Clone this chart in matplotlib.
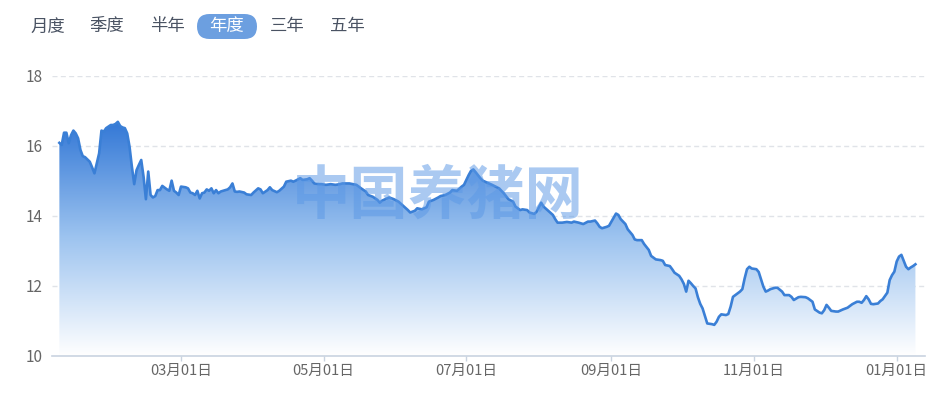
import matplotlib
matplotlib.use('Agg')
import matplotlib.pyplot as plt
import matplotlib.dates as mdates
from matplotlib.colors import LinearSegmentedColormap
from matplotlib.patches import FancyBboxPatch
from matplotlib.transforms import Affine2D
import numpy as np
import pandas as pd

plt.rcParams['font.family'] = ['Noto Sans CJK SC', 'DejaVu Sans']

# ---------------- data ----------------
dates = [
    '2025-01-08', '2025-01-09', '2025-01-10', '2025-01-11', '2025-01-12', '2025-01-13', '2025-01-14',
    '2025-01-15', '2025-01-16', '2025-01-17', '2025-01-18', '2025-01-19', '2025-01-21', '2025-01-22',
    '2025-01-23', '2025-01-25', '2025-01-26', '2025-01-27', '2025-01-28', '2025-01-30', '2025-01-31',
    '2025-02-01', '2025-02-02', '2025-02-03', '2025-02-04', '2025-02-05', '2025-02-06', '2025-02-07',
    '2025-02-08', '2025-02-09', '2025-02-10', '2025-02-11', '2025-02-12', '2025-02-13', '2025-02-14',
    '2025-02-15', '2025-02-16', '2025-02-17', '2025-02-18', '2025-02-19', '2025-02-20', '2025-02-21',
    '2025-02-23', '2025-02-24', '2025-02-25', '2025-02-26', '2025-02-27', '2025-02-28', '2025-03-01',
    '2025-03-03', '2025-03-04', '2025-03-05', '2025-03-06', '2025-03-07', '2025-03-08', '2025-03-09',
    '2025-03-10', '2025-03-11', '2025-03-12', '2025-03-13', '2025-03-14', '2025-03-15', '2025-03-16',
    '2025-03-17', '2025-03-18', '2025-03-19', '2025-03-21', '2025-03-22', '2025-03-23', '2025-03-24',
    '2025-03-25', '2025-03-26', '2025-03-28', '2025-03-29', '2025-03-31', '2025-04-01', '2025-04-03',
    '2025-04-04', '2025-04-05', '2025-04-07', '2025-04-08', '2025-04-09', '2025-04-11', '2025-04-12',
    '2025-04-14', '2025-04-15', '2025-04-17', '2025-04-18', '2025-04-19', '2025-04-21', '2025-04-22',
    '2025-04-24', '2025-04-25', '2025-04-26', '2025-04-27', '2025-04-29', '2025-04-30', '2025-05-02',
    '2025-05-04', '2025-05-06', '2025-05-08', '2025-05-09', '2025-05-12', '2025-05-15', '2025-05-17',
    '2025-05-19', '2025-05-20', '2025-05-22', '2025-05-24', '2025-05-25', '2025-05-26', '2025-05-28',
    '2025-05-29', '2025-05-31', '2025-06-02', '2025-06-04', '2025-06-06', '2025-06-07', '2025-06-09',
    '2025-06-10', '2025-06-12', '2025-06-14', '2025-06-15', '2025-06-17', '2025-06-19', '2025-06-20',
    '2025-06-22', '2025-06-24', '2025-06-25', '2025-06-27', '2025-06-29', '2025-06-30', '2025-07-01',
    '2025-07-02', '2025-07-03', '2025-07-04', '2025-07-05', '2025-07-07', '2025-07-08', '2025-07-10',
    '2025-07-12', '2025-07-15', '2025-07-17', '2025-07-19', '2025-07-21', '2025-07-22', '2025-07-24',
    '2025-07-25', '2025-07-27', '2025-07-28', '2025-07-30', '2025-07-31', '2025-08-01', '2025-08-02',
    '2025-08-03', '2025-08-05', '2025-08-07', '2025-08-08', '2025-08-09', '2025-08-11', '2025-08-13',
    '2025-08-15', '2025-08-16', '2025-08-18', '2025-08-20', '2025-08-22', '2025-08-23', '2025-08-25',
    '2025-08-26', '2025-08-27', '2025-08-28', '2025-08-30', '2025-08-31', '2025-09-02', '2025-09-03',
    '2025-09-04', '2025-09-05', '2025-09-07', '2025-09-08', '2025-09-10', '2025-09-11', '2025-09-12',
    '2025-09-14', '2025-09-15', '2025-09-17', '2025-09-18', '2025-09-20', '2025-09-22', '2025-09-23',
    '2025-09-24', '2025-09-26', '2025-09-27', '2025-09-28', '2025-09-30', '2025-10-01', '2025-10-02',
    '2025-10-03', '2025-10-04', '2025-10-05', '2025-10-06', '2025-10-07', '2025-10-08', '2025-10-09',
    '2025-10-10', '2025-10-11', '2025-10-12', '2025-10-14', '2025-10-15', '2025-10-16', '2025-10-17',
    '2025-10-18', '2025-10-20', '2025-10-21', '2025-10-22', '2025-10-23', '2025-10-25', '2025-10-26',
    '2025-10-27', '2025-10-28', '2025-10-29', '2025-10-30', '2025-10-31', '2025-11-02', '2025-11-03',
    '2025-11-04', '2025-11-05', '2025-11-06', '2025-11-07', '2025-11-08', '2025-11-10', '2025-11-11',
    '2025-11-13', '2025-11-14', '2025-11-16', '2025-11-17', '2025-11-18', '2025-11-20', '2025-11-21',
    '2025-11-23', '2025-11-24', '2025-11-26', '2025-11-27', '2025-11-29', '2025-11-30', '2025-12-01',
    '2025-12-02', '2025-12-03', '2025-12-04', '2025-12-06', '2025-12-07', '2025-12-09', '2025-12-11',
    '2025-12-12', '2025-12-13', '2025-12-15', '2025-12-16', '2025-12-17', '2025-12-18', '2025-12-19',
    '2025-12-20', '2025-12-21', '2025-12-22', '2025-12-24', '2025-12-25', '2025-12-26', '2025-12-28',
    '2025-12-29', '2025-12-30', '2025-12-31', '2026-01-01', '2026-01-02', '2026-01-03', '2026-01-04',
    '2026-01-05', '2026-01-06', '2026-01-07', '2026-01-08', '2026-01-09',
]
prices = [
    16.09, 16.03, 16.38, 16.38, 16.08, 16.31, 16.44,
    16.36, 16.22, 15.89, 15.71, 15.68, 15.55, 15.39,
    15.22, 15.79, 16.44, 16.41, 16.51, 16.60, 16.60,
    16.63, 16.69, 16.57, 16.53, 16.51, 16.36, 15.98,
    15.41, 14.91, 15.31, 15.46, 15.60, 15.12, 14.48,
    15.27, 14.60, 14.53, 14.57, 14.74, 14.74, 14.86,
    14.76, 14.72, 15.01, 14.72, 14.67, 14.60, 14.84,
    14.82, 14.79, 14.67, 14.65, 14.60, 14.72, 14.50,
    14.65, 14.67, 14.76, 14.72, 14.79, 14.65, 14.74,
    14.65, 14.70, 14.72, 14.76, 14.82, 14.93, 14.70,
    14.69, 14.70, 14.67, 14.62, 14.60, 14.67, 14.79,
    14.76, 14.65, 14.74, 14.82, 14.74, 14.68, 14.72,
    14.84, 14.98, 15.01, 14.98, 15.01, 15.08, 15.03,
    15.05, 15.08, 15.01, 14.93, 14.91, 14.91, 14.89,
    14.91, 14.89, 14.91, 14.93, 14.93, 14.89, 14.79,
    14.70, 14.60, 14.55, 14.46, 14.38, 14.44, 14.50,
    14.53, 14.48, 14.41, 14.29, 14.17, 14.10, 14.15,
    14.22, 14.19, 14.25, 14.41, 14.46, 14.53, 14.57,
    14.60, 14.67, 14.74, 14.72, 14.84, 14.89, 15.03,
    15.17, 15.29, 15.33, 15.25, 15.08, 15.01, 14.95,
    14.89, 14.79, 14.65, 14.48, 14.41, 14.27, 14.17,
    14.19, 14.17, 14.10, 14.06, 14.12, 14.25, 14.38,
    14.27, 14.15, 14.03, 13.91, 13.81, 13.81, 13.83,
    13.81, 13.84, 13.81, 13.77, 13.84, 13.84, 13.87,
    13.79, 13.69, 13.65, 13.69, 13.72, 13.95, 14.07,
    14.03, 13.91, 13.77, 13.62, 13.46, 13.33, 13.31,
    13.31, 13.20, 13.03, 12.86, 12.76, 12.74, 12.72,
    12.60, 12.57, 12.48, 12.38, 12.29, 12.19, 12.06,
    11.84, 12.15, 12.08, 12.00, 11.93, 11.68, 11.49,
    11.36, 11.14, 10.93, 10.91, 10.89, 10.98, 11.12,
    11.19, 11.17, 11.20, 11.41, 11.69, 11.79, 11.84,
    11.91, 12.22, 12.48, 12.55, 12.50, 12.48, 12.40,
    12.19, 11.98, 11.84, 11.87, 11.91, 11.95, 11.95,
    11.84, 11.74, 11.74, 11.69, 11.60, 11.68, 11.69,
    11.68, 11.65, 11.55, 11.33, 11.24, 11.22, 11.31,
    11.46, 11.38, 11.29, 11.27, 11.27, 11.33, 11.38,
    11.43, 11.48, 11.55, 11.55, 11.52, 11.60, 11.71,
    11.62, 11.49, 11.48, 11.50, 11.57, 11.62, 11.81,
    12.17, 12.31, 12.41, 12.70, 12.84, 12.89, 12.72,
    12.55, 12.48, 12.53, 12.57, 12.62,
]
x_tick_dates = ['2025-03-01', '2025-05-01', '2025-07-01', '2025-09-01', '2025-11-01', '2026-01-01']
x_tick_labels = ['03月01日', '05月01日', '07月01日', '09月01日', '11月01日', '01月01日']
y_ticks = [10, 12, 14, 16, 18]
buttons = ['月度', '季度', '半年', '年度', '三年', '五年']
selected_button = '年度'
watermark = '中国养猪网'

# ---------------- figure ----------------
W, H = 945, 400
fig = plt.figure(figsize=(W / 100, H / 100), dpi=100)
fig.patch.set_facecolor('white')
ax = fig.add_axes([52 / W, 44 / H, 873 / W, 280 / H])

xn = mdates.date2num(pd.to_datetime(dates))
y = np.array(prices)

# gradient fill under the curve
top_rgb = (0.20, 0.47, 0.84)
cmap = LinearSegmentedColormap.from_list('g', [(1, 1, 1), (0.62, 0.77, 0.94), top_rgb])
grad = np.linspace(0, 1, 256).reshape(-1, 1)
im = ax.imshow(grad, extent=[xn[0], xn[-1], 10, y.max()], origin='lower',
               aspect='auto', cmap=cmap, zorder=1, interpolation='bicubic')
poly = ax.fill_between(xn, y, 10, facecolor='none', edgecolor='none', zorder=1)
im.set_clip_path(poly.get_paths()[0], transform=ax.transData)

ax.plot(xn, y, color='#3a7fd6', lw=1.9, zorder=3, solid_joinstyle='round')

# grid
for v in y_ticks[1:]:
    ax.axhline(v, color='#e0e3e8', lw=1.0, ls=(0, (3.6, 2.4)), zorder=0.5)

x0 = pd.Timestamp('2025-03-01')
ax.set_xlim(mdates.date2num(x0 + pd.Timedelta(days=-55.15)),
            mdates.date2num(x0 + pd.Timedelta(days=318.1)))
ax.set_ylim(10, 18)

for s in ['top', 'right', 'left']:
    ax.spines[s].set_visible(False)
ax.spines['bottom'].set_color('#c9d3e0')
ax.spines['bottom'].set_linewidth(1.2)
ax.spines['bottom'].set_zorder(4)

ax.set_yticks(y_ticks)
ax.set_yticklabels([str(v) for v in y_ticks])
ax.tick_params(axis='y', length=0, pad=7, labelsize=11, labelcolor='#666666')

ax.set_xticks(mdates.date2num(pd.to_datetime(x_tick_dates)))
ax.set_xticklabels(x_tick_labels)
ax.tick_params(axis='x', length=3.5, width=1, color='#c9d3e0', pad=2,
               labelsize=10.5, labelcolor='#666666')

# watermark
fig.text(438 / W, 1 - 197 / H, watermark, fontsize=42, fontweight='bold',
         color=(0.36, 0.60, 0.90, 0.52), ha='center', va='center', zorder=10)

# top buttons
pix = Affine2D().scale(1 / W, 1 / H) + fig.transFigure
btn_x = [47.5, 106.5, 167, 227, 287.5, 347.5]
for bx, label in zip(btn_x, buttons):
    if label == selected_button:
        pill = FancyBboxPatch((bx - 30, H - 39), 60, 25,
                              boxstyle='round,pad=0,rounding_size=12.5',
                              transform=pix, facecolor='#6c9fe0', edgecolor='none')
        fig.patches.append(pill)
        fig.text(bx / W, 1 - 26.5 / H, label, fontsize=12.5, color='white',
                 ha='center', va='center')
    else:
        fig.text(bx / W, 1 - 26.5 / H, label, fontsize=12.5, color='#4a5363',
                 ha='center', va='center')

fig.savefig('out.png', dpi=100)
